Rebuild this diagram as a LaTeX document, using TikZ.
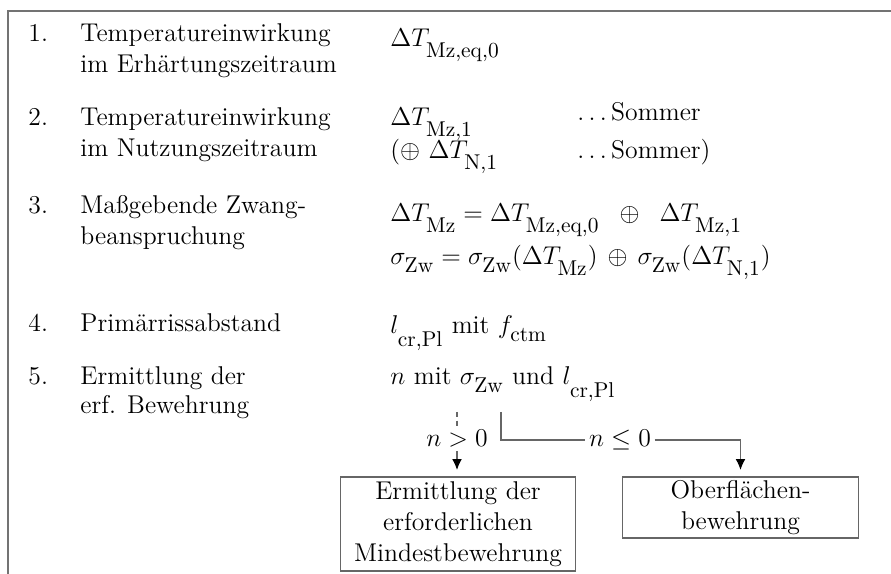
\documentclass[tikz,border=0pt]{standalone}
\usetikzlibrary{arrows.meta}
\newcommand\subtext[1]{{\fontsize{10}{12}\selectfont\rmfamily #1}}
\newcommand\Tsub[1]{_{\raisebox{-3pt}{\subtext{#1}}}}
\newcommand\Lsub[1]{_{\raisebox{-4pt}{\subtext{#1}}}}
\newcommand\Ssub[1]{_{\raisebox{-1.8pt}{\subtext{#1}}}}
\begin{document}
\begin{tikzpicture}[x=0.467pt,y=-0.467pt,
  every node/.style={font=\fontsize{12}{14.5}\selectfont, inner sep=0pt},
  txt/.style={anchor=base west},
  frame/.style={draw=black!55, line width=0.75pt},
  conn/.style={draw=black!60, line width=0.5pt},
  arr/.style={conn, -{Latex[length=5pt,width=4.5pt,color=black]}, shorten >=3pt},
  box/.style={draw=black!60, line width=0.6pt, align=center, minimum width=110pt, text width=106pt},
  lbl/.style={fill=white, inner sep=1.5pt}]
\useasboundingbox (0,0) rectangle (891,574);
\coordinate (fTL) at (8,11);
\coordinate (fTR) at (891,11);
\coordinate (fBL) at (8,574);
\draw[frame] (fTR) -- (fTL) -- (fBL);
% left column
\node[txt] (n1) at (28,42) {1.};
\node[txt] (t1a) at (80,42) {Temperatureinwirkung};
\node[txt] (t1b) at (80,73) {im Erhärtungszeitraum};
\node[txt] (n2) at (28,126) {2.};
\node[txt] (t2a) at (80,126) {Temperatureinwirkung};
\node[txt] (t2b) at (80,157) {im Nutzungszeitraum};
\node[txt] (n3) at (28,214) {3.};
\node[txt] (t3a) at (80,214) {Maßgebende Zwang-};
\node[txt] (t3b) at (80,245) {beanspruchung};
\node[txt] (n4) at (28,332) {4.};
\node[txt] (t4) at (80,332) {Primärrissabstand};
\node[txt] (n5) at (28,385) {5.};
\node[txt] (t5a) at (80,385) {Ermittlung der};
\node[txt] (t5b) at (80,414) {erf. Bewehrung};
% right column
\node[txt] (r1) at (390,47) {$\Delta T\Tsub{Mz,eq,0}$};
\node[txt] (r2a) at (390,126) {$\Delta T\Tsub{Mz,1}$};
\node[txt] (s2a) at (577,121) {$\ldots\,$Sommer};
\node[txt] (r2b) at (390,159) {$(\oplus\ \Delta T\Tsub{N,1}$};
\node[txt] (s2b) at (577,159) {$\ldots\,$Sommer)};
\node[txt] (r3a) at (390,222) {$\Delta T\Tsub{Mz} = \Delta T\Tsub{Mz,eq,0}\;\;\oplus\;\;\Delta T\Tsub{Mz,1}$};
\node[txt] (r3b) at (390,265) {$\sigma\Ssub{Zw} = \sigma\Ssub{Zw}(\Delta T\Tsub{Mz})\,\oplus\,\sigma\Ssub{Zw}(\Delta T\Tsub{N,1})$};
\node[txt] (r4) at (390,334) {$l\Lsub{cr,Pl}$ mit $f\Ssub{ctm}$};
\node[txt] (r5) at (390,385) {$n$ mit $\sigma\Ssub{Zw}$ und $l\Lsub{cr,Pl}$};
% decision
\coordinate (s1) at (457,412);
\coordinate (s2) at (501,412);
\node[lbl] (lA) at (457,439) {$n>0$};
\node[lbl] (lB) at (620,440) {$n\leq 0$};
\node[box, minimum height=43.9pt] (b1) at (458,524) {Ermittlung der\\erforderlichen\\Mindestbewehrung};
\node[box, minimum height=28.5pt] (b2) at (740.5,507.5) {Oberflächen-\\bewehrung};
\draw[conn, dash pattern=on 2.5pt off 1.5pt] (s1) -- (lA.north);
\draw[arr] (lA.south) -- (lA.south |- b1.north);
\draw[conn] (s2) |- (lB.west);
\draw[arr] (lB.east) -| (b2.north);
\end{tikzpicture}
\end{document}
